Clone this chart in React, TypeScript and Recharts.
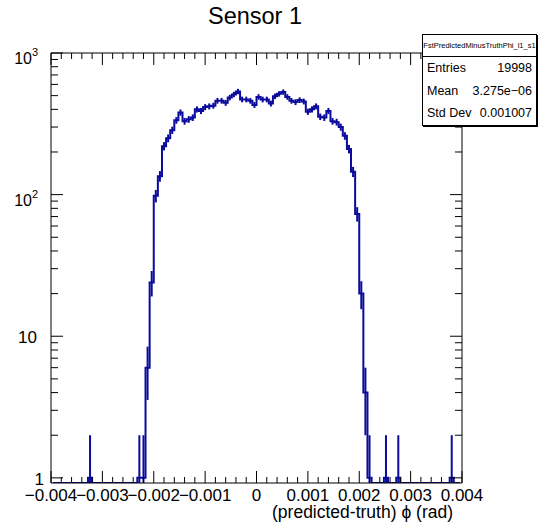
import React from 'react';
import { ComposedChart, Line, XAxis, YAxis, ErrorBar } from 'recharts';

const W = 538;
const H = 528;
const FONT = '"Liberation Sans", Arial, Helvetica, sans-serif';
const HIST_COLOR = '#0a0a9c';

// 100 bins on [-0.004, 0.004]
const X_MIN = -0.004;
const X_MAX = 0.004;
const BIN_WIDTH = 0.00008;
const COUNTS = [
  0, 0, 0, 0, 0, 0, 0, 0, 0, 1,
  0, 0, 0, 0, 0, 0, 0, 0, 0, 0,
  0, 1, 1, 6, 24, 98, 135, 220, 250, 285,
  335, 380, 330, 340, 350, 400, 390, 415, 420, 425,
  460, 460, 445, 485, 510, 535, 470, 470, 460, 430,
  490, 470, 470, 440, 495, 515, 530, 490, 460, 450,
  465, 455, 385, 400, 420, 355, 350, 390, 330, 325,
  300, 260, 210, 145, 73, 20, 4, 1, 0, 0,
  0, 1, 0, 0, 1, 0, 0, 0, 0, 0,
  0, 0, 0, 0, 0, 0, 0, 1, 0, 0,
];

const X_MAJOR = [-0.004, -0.003, -0.002, -0.001, 0, 0.001, 0.002, 0.003, 0.004];
const X_LABELS = ['\u22120.004', '\u22120.003', '\u22120.002', '\u22120.001', '0', '0.001', '0.002', '0.003', '0.004'];
const X_MINOR_STEP = 0.0002;

const Y_MIN = 0.92;
const Y_MAX = 1000;
const Y_DECADES = [1, 10, 100, 1000];
const Y_LABELS = ['1', '10', '10', '10'];
const Y_LABEL_SUP = ['', '', '2', '3'];

const STATS_NAME = 'FstPredictedMinusTruthPhi_l1_s1';
const STATS_ROWS = [
  ['Entries', '19998'],
  ['Mean', '3.275e\u221206'],
  ['Std Dev', '0.001007'],
];

const X_TICKS = Array.from({ length: Math.round((X_MAX - X_MIN) / X_MINOR_STEP) + 1 }, (_, k) => X_MIN + k * X_MINOR_STEP);
const Y_TICKS = [1, 10, 100].flatMap((d) => [1, 2, 3, 4, 5, 6, 7, 8, 9].map((m) => m * d)).concat([1000]);

// empty bins are clipped to the frame bottom, like ROOT does on a log axis
const rows = COUNTS.map((c, i) => {
  const e = Math.sqrt(c);
  return {
    x: X_MIN + BIN_WIDTH * (i + 0.5),
    y: c > 0 ? c : Y_MIN,
    err: c > 0 ? [Math.min(e, c - Y_MIN), e] : [0, 0],
  };
});

const majorIndex = (v: number, list: number[]) => list.findIndex((m) => Math.abs(m - v) < Math.abs(m) * 1e-6 + 1e-9);

const XTick = ({ x, y, payload, side }: any) => {
  const mi = majorIndex(payload.value, X_MAJOR);
  const len = mi >= 0 ? 12 : 6;
  const dir = side === 'top' ? 1 : -1;
  return (
    <g>
      <line x1={x} y1={y} x2={x} y2={y + dir * len} stroke="#000" strokeWidth={1} />
      {side === 'bottom' && mi >= 0 && (
        <text x={x} y={y + 18} textAnchor="middle" fontSize={17} fontFamily={FONT} fill="#000">
          {X_LABELS[mi]}
        </text>
      )}
    </g>
  );
};

const YTick = ({ x, y, payload, side }: any) => {
  const di = majorIndex(payload.value, Y_DECADES);
  const len = di >= 0 ? 12 : 7;
  const dir = side === 'right' ? -1 : 1;
  let label = null;
  if (side === 'left' && di >= 0) {
    if (Y_LABEL_SUP[di]) {
      label = (
        <g fontFamily={FONT} fill="#000">
          <text x={x - 19} y={y + 11} textAnchor="end" fontSize={16}>{Y_LABELS[di]}</text>
          <text x={x - 19} y={y + 3} textAnchor="start" fontSize={11}>{Y_LABEL_SUP[di]}</text>
        </g>
      );
    } else {
      label = (
        <text x={x - (Y_LABELS[di].length > 1 ? 14 : 7)} y={y + 7} textAnchor="end" fontSize={17} fontFamily={FONT} fill="#000">
          {Y_LABELS[di]}
        </text>
      );
    }
  }
  return (
    <g>
      <line x1={x} y1={y} x2={x + dir * len} y2={y} stroke="#000" strokeWidth={1} />
      {label}
    </g>
  );
};

export default function App() {
  return (
    <div style={{ position: 'absolute', left: 0, top: 0, width: W, height: H, background: '#fff' }}>
      <ComposedChart width={W} height={H} data={rows} margin={{ top: 52, right: 75, bottom: 44, left: 50 }}>
        <XAxis
          dataKey="x" type="number" domain={[X_MIN, X_MAX]} ticks={X_TICKS} interval={0}
          height={1} tickSize={0} tickMargin={0} tickLine={false}
          axisLine={{ stroke: '#000', strokeWidth: 1 }}
          tick={(p: any) => <XTick {...p} side="bottom" />}
        />
        <XAxis
          xAxisId="top" orientation="top" dataKey="x" type="number" domain={[X_MIN, X_MAX]} ticks={X_TICKS} interval={0}
          height={1} tickSize={0} tickMargin={0} tickLine={false}
          axisLine={{ stroke: '#000', strokeWidth: 1 }}
          tick={(p: any) => <XTick {...p} side="top" />}
        />
        <YAxis
          type="number" scale="log" domain={[Y_MIN, Y_MAX]} allowDataOverflow ticks={Y_TICKS} interval={0}
          width={1} tickSize={0} tickMargin={0} tickLine={false}
          axisLine={{ stroke: '#000', strokeWidth: 1 }}
          tick={(p: any) => <YTick {...p} side="left" />}
        />
        <YAxis
          yAxisId="right" orientation="right" type="number" scale="log" domain={[Y_MIN, Y_MAX]} allowDataOverflow ticks={Y_TICKS} interval={0}
          width={1} tickSize={0} tickMargin={0} tickLine={false}
          axisLine={{ stroke: '#000', strokeWidth: 1 }}
          tick={(p: any) => <YTick {...p} side="right" />}
        />
        <Line
          xAxisId="top" yAxisId="right" dataKey="y" stroke="none" dot={false}
          isAnimationActive={false} legendType="none"
        />
        <Line
          type="step" dataKey="y" stroke={HIST_COLOR} strokeWidth={2} dot={false}
          isAnimationActive={false}
        >
          <ErrorBar dataKey="err" direction="y" width={0} stroke={HIST_COLOR} strokeWidth={2} isAnimationActive={false} />
        </Line>
      </ComposedChart>

      <svg width={W} height={H} style={{ position: 'absolute', left: 0, top: 0, pointerEvents: 'none' }}>
        <text x={255} y={24} textAnchor="middle" fontSize={23.5} fontFamily={FONT} fill="#000">Sensor 1</text>
        <text x={453} y={518} textAnchor="end" fontSize={17.5} fontFamily={FONT} fill="#000">
          (predicted-truth) {'\u03D5'} (rad)
        </text>
      </svg>

      <div
        style={{
          position: 'absolute', left: 422, top: 34, width: 113, height: 90,
          border: '1px solid #000', boxShadow: '1px 1px 0 #000', background: '#fff',
          fontFamily: FONT, color: '#000',
        }}
      >
        <div style={{ height: 21, borderBottom: '1px solid #000', fontSize: 7.5, lineHeight: '21px', textAlign: 'center', whiteSpace: 'nowrap', overflow: 'hidden' }}>
          {STATS_NAME}
        </div>
        {STATS_ROWS.map(([k, v]) => (
          <div key={k} style={{ display: 'flex', justifyContent: 'space-between', height: 22.5, lineHeight: '22.5px', fontSize: 12.5, padding: '0 4px 0 4px', whiteSpace: 'nowrap' }}>
            <span>{k}</span>
            <span>{v}</span>
          </div>
        ))}
      </div>
    </div>
  );
}
